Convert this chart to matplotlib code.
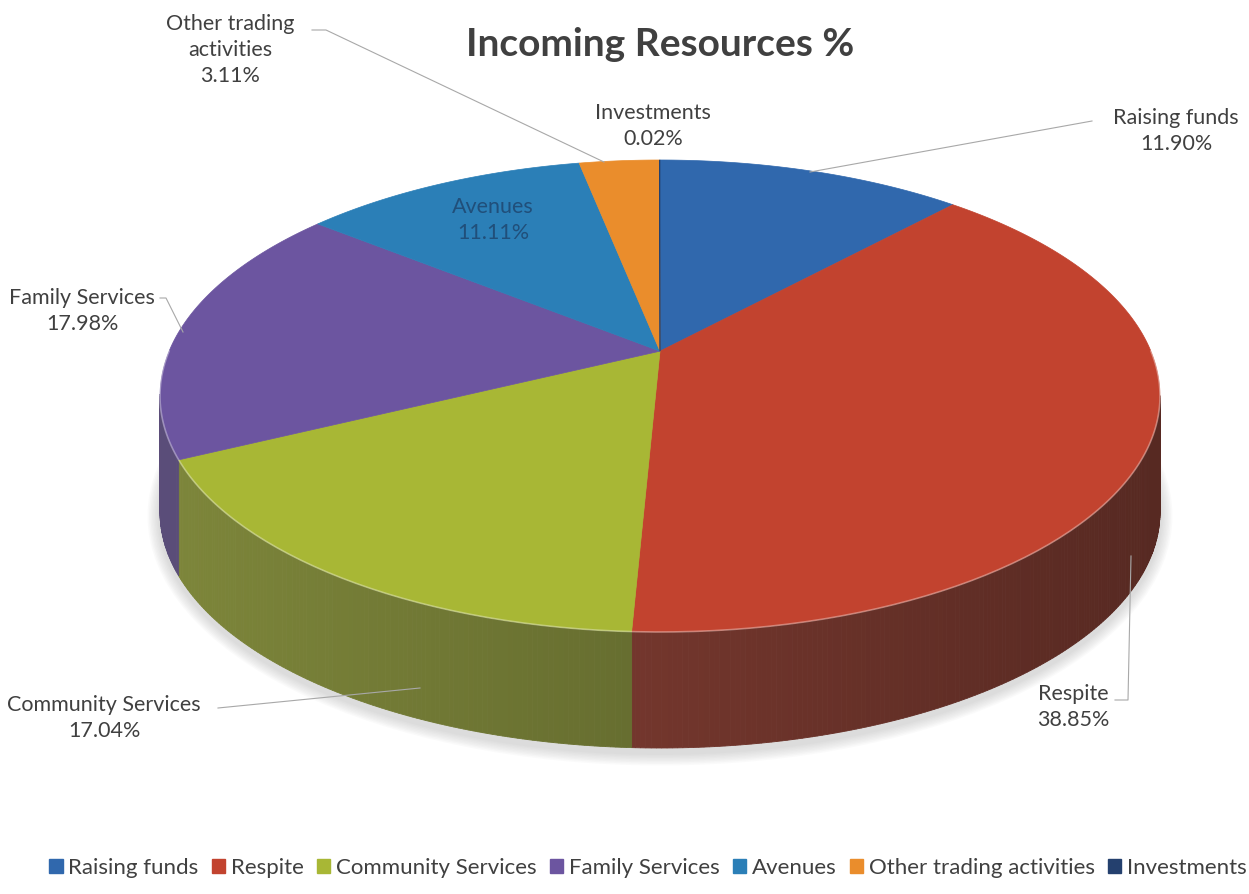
import numpy as np
import matplotlib.pyplot as plt
from matplotlib.patches import Polygon, Patch, Ellipse
import matplotlib.colors as mcolors

plt.rcParams['font.family'] = ['Lato', 'DejaVu Sans']

labels = ["Raising funds", "Respite", "Community Services", "Family Services",
          "Avenues", "Other trading activities", "Investments"]
shares = [11.90, 38.85, 17.04, 17.98, 11.11, 3.11, 0.02]
colors = ["#3068ad", "#c2432f", "#a8b735", "#6c55a0", "#2b7fb7", "#ea8d2c", "#24406e"]

W, H = 1249, 894
CX, CY = 660, 396      # centre of the top-face outline (pixels)
RX, RY = 500, 236
DEPTH = 116
TILT = -0.19           # perspective: front of the disc looks bigger


def rim(phi_deg):
    # phi clockwise from 12 o'clock on the flat disc -> screen point
    phi = np.radians(phi_deg)
    u, v = np.sin(phi), -np.cos(phi)
    d = 1 + TILT * v
    up = u * np.sqrt(1 - TILT ** 2) / d
    vp = (v + TILT) / d
    return CX + RX * up, CY + RY * vp, up, vp


apex = (CX, CY + RY * TILT)

fig = plt.figure(figsize=(W / 100, H / 100), dpi=100)
ax = fig.add_axes([0, 0, 1, 1])
ax.set_xlim(0, W)
ax.set_ylim(H, 0)
ax.axis("off")

# soft shadow under the disc
for i in range(8):
    ax.add_patch(Ellipse((CX, CY + DEPTH + 4), 2 * RX + 4 + 3 * i, 2 * RY + 6 + 3 * i,
                         color="#808080", alpha=0.035, lw=0, zorder=1))

total = sum(shares)
bounds = np.concatenate([[0], np.cumsum(shares) / total * 360])

# outer wall, drawn in thin strips so the shading can vary across the front
grey = np.array([0.33, 0.33, 0.33])
for k, c in enumerate(colors):
    base = np.array(mcolors.to_rgb(c))
    phis = np.arange(bounds[k], bounds[k + 1], 0.5)
    phis = np.append(phis, bounds[k + 1])
    for a, b in zip(phis[:-1], phis[1:]):
        x1, y1, u1, v1 = rim(a)
        x2, y2, u2, v2 = rim(b)
        if v1 < 0 and v2 < 0:
            continue
        shade = 0.78 - 0.3 * ((u1 + u2) / 2 + 1) / 2
        col = np.clip(0.75 * base * shade + 0.25 * grey * shade / 0.6, 0, 1)
        ax.add_patch(Polygon([(x1, y1), (x2, y2), (x2, y2 + DEPTH), (x1, y1 + DEPTH)],
                             closed=True, facecolor=col, edgecolor=col, lw=0.6, zorder=2))

# top face
for k, c in enumerate(colors):
    phis = np.linspace(bounds[k], bounds[k + 1], max(int((bounds[k + 1] - bounds[k]) * 2), 2))
    pts = [apex] + [rim(p)[:2] for p in phis]
    ax.add_patch(Polygon(pts, closed=True, facecolor=c, edgecolor=c, lw=0.5, zorder=3))

# light rim highlight along the front edge
front = np.linspace(90, 270, 200)
fx = [rim(p)[0] for p in front]
fy = [rim(p)[1] for p in front]
ax.plot(fx, fy, color="white", alpha=0.35, lw=1.2, zorder=4)

ax.text(660, 45, "Incoming Resources %", ha="center", va="center",
        fontsize=28, fontweight="bold", color="#404040")

lab_kw = dict(ha="center", va="center", fontsize=15.5, color="#404040",
              linespacing=1.4, multialignment="center")
ax.text(230, 50, "Other trading\nactivities\n3.11%", **lab_kw)
ax.text(653, 126, "Investments\n0.02%", **lab_kw)
ax.text(1176, 131, "Raising funds\n11.90%", **lab_kw)
ax.text(82, 311, "Family Services\n17.98%", **lab_kw)
ax.text(104, 718, "Community Services\n17.04%", **lab_kw)
ax.text(1073, 707, "Respite\n38.85%", **lab_kw)
ax.text(493, 220, "Avenues\n11.11%", ha="center", va="center", fontsize=15.5,
        color="#1d3f66", alpha=0.75, linespacing=1.4)

# leader lines
lk = dict(color="#a8a8a8", lw=0.8, zorder=5)
ax.plot([1092, 810], [121, 172], **lk)
ax.plot([312, 326, 604], [30, 30, 162], **lk)
ax.plot([160, 166, 183], [298, 298, 332], **lk)
ax.plot([218, 420], [708, 688], **lk)
ax.plot([1115, 1128, 1131], [700, 700, 556], **lk)

handles = [Patch(facecolor=c, edgecolor=c) for c in colors]
fig.legend(handles, labels, loc="center", bbox_to_anchor=(648 / W, 1 - 868 / H),
           ncol=7, frameon=False, fontsize=16, handlelength=0.6, handleheight=0.6,
           handletextpad=0.25, columnspacing=0.6, labelcolor="#404040",
           borderpad=0, borderaxespad=0)

fig.savefig("out.png", dpi=100)
